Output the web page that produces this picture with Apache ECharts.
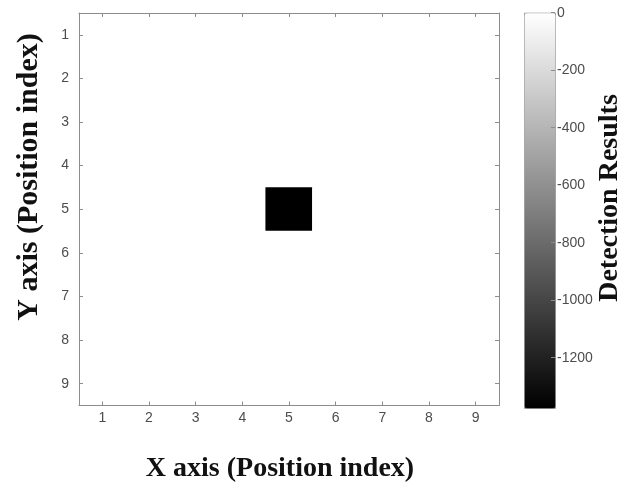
<!DOCTYPE html>
<html>
<head>
<meta charset="utf-8">
<script src="https://cdn.jsdelivr.net/npm/echarts@6/dist/echarts.min.js"></script>
<style>html,body{margin:0;padding:0;background:#fff}#c{width:635px;height:482px}</style>
</head>
<body>
<div id="c"></div>
<script>
const xCategories = ['1','2','3','4','5','6','7','8','9'];
const yCategories = ['1','2','3','4','5','6','7','8','9'];
// rows = Y index 1..9, columns = X index 1..9
const values = [
  [0,0,0,0,0,0,0,0,0],
  [0,0,0,0,0,0,0,0,0],
  [0,0,0,0,0,0,0,0,0],
  [0,0,0,0,0,0,0,0,0],
  [0,0,0,0,-1375,0,0,0,0],
  [0,0,0,0,0,0,0,0,0],
  [0,0,0,0,0,0,0,0,0],
  [0,0,0,0,0,0,0,0,0],
  [0,0,0,0,0,0,0,0,0]
];
const colorMin = -1375;
const colorMax = 0;
const colorbarTicks = [0,-200,-400,-600,-800,-1000,-1200];
const xTitle = 'X axis (Position index)';
const yTitle = 'Y axis (Position index)';
const cbTitle = 'Detection Results';

const data = [];
values.forEach((row, yi) => row.forEach((v, xi) => data.push([xi, yi, v])));

const axisCol = '#8c8c8c';
const labelCol = '#4d4d4d';
const labelFont = {fontFamily: 'Liberation Sans, Arial', fontSize: 14, color: labelCol};
const titleFont = {fontFamily: 'Liberation Serif, Times New Roman', fontWeight: 'bold', fill: '#111'};

function catAxis(extra) {
  return Object.assign({
    type: 'category', gridIndex: 0, z: 10,
    axisLine: {show: true, onZero: false, lineStyle: {color: axisCol, width: 1}},
    axisTick: {show: true, inside: true, alignWithLabel: true, length: 4, lineStyle: {color: axisCol}},
    splitLine: {show: false}
  }, extra);
}

const chart = echarts.init(document.getElementById('c'), null, {renderer: 'canvas'});
chart.setOption({
  backgroundColor: '#fff',
  animation: false,
  grid: [
    {left: 79, top: 13, width: 420, height: 392.5, containLabel: false, show: false},
    {left: 524, top: 12.7, width: 31, height: 395.3, containLabel: false, show: false}
  ],
  xAxis: [
    catAxis({data: xCategories, position: 'bottom', axisLabel: Object.assign({margin: 6}, labelFont)}),
    catAxis({data: xCategories, position: 'top', axisLabel: {show: false}}),
    {type: 'value', gridIndex: 1, min: 0, max: 1, show: false, axisLine: {onZero: false}}
  ],
  yAxis: [
    catAxis({data: yCategories, inverse: true, position: 'left', axisLabel: Object.assign({margin: 10}, labelFont)}),
    catAxis({data: yCategories, inverse: true, position: 'right', axisLabel: {show: false}}),
    {type: 'value', gridIndex: 1, min: colorMin, max: colorMax, position: 'right', z: 10,
     axisLine: {show: false, onZero: false},
     axisTick: {show: true, inside: true, length: 4, lineStyle: {color: axisCol}, customValues: colorbarTicks},
     axisLabel: Object.assign({margin: 2, customValues: colorbarTicks, formatter: v => String(v)}, labelFont),
     splitLine: {show: false}}
  ],
  visualMap: {
    type: 'continuous', min: colorMin, max: colorMax, seriesIndex: 0,
    calculable: false, realtime: false, hoverLink: false,
    left: 524, top: 12.7, itemWidth: 31, itemHeight: 395.3,
    padding: 0, borderWidth: 1, borderColor: '#999',
    text: null, showLabel: false,
    inRange: {color: ['#000000', '#ffffff']}
  },
  series: [
    {type: 'heatmap', xAxisIndex: 0, yAxisIndex: 0, data: data,
     itemStyle: {borderWidth: 0}, emphasis: {disabled: true}, label: {show: false}}
  ],
  graphic: [
    {type: 'text', x: 280, y: 469, style: Object.assign({text: xTitle, fontSize: 28, align: 'center', verticalAlign: 'middle'}, titleFont)},
    {type: 'text', x: 29, y: 177, rotation: Math.PI / 2, style: Object.assign({text: yTitle, fontSize: 30, align: 'center', verticalAlign: 'middle'}, titleFont)},
    {type: 'text', x: 610, y: 198, rotation: Math.PI / 2, style: Object.assign({text: cbTitle, fontSize: 28, align: 'center', verticalAlign: 'middle'}, titleFont)}
  ]
});
</script>
</body>
</html>
